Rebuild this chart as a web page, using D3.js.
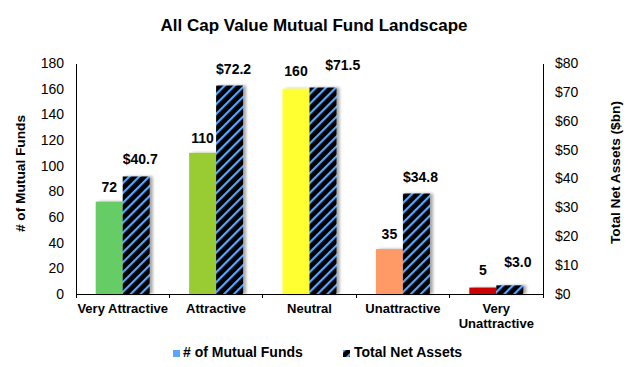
<html lang="en">
<head>
<meta charset="utf-8">
<title>All Cap Value Mutual Fund Landscape</title>
<script src="https://cdnjs.cloudflare.com/ajax/libs/d3/7.8.5/d3.min.js"></script>
<style>
	body { margin: 0; background: white; font-family: Arial, "Liberation Sans", sans-serif; }
	svg { display: block; }
	.axis path, .axis line { stroke: #000; fill: none; shape-rendering: crispEdges; }
	.axis text { font-size: 14px; fill: #000; font-family: Arial, "Liberation Sans", sans-serif; }
	.xaxis text { font-size: 13px; font-weight: bold; }
	.lbl { font-size: 14px; font-weight: bold; text-anchor: middle; }
	.title { font-size: 17px; font-weight: bold; text-anchor: middle; }
	.ytitle { font-size: 13.7px; font-weight: bold; text-anchor: middle; }
	.legend text { font-size: 14px; font-weight: bold; }
</style>
</head>
<body>
<script>
var categories = ["Very Attractive", "Attractive", "Neutral", "Unattractive", "Very Unattractive"];
var fundCounts = [72, 110, 160, 35, 5];
var netAssets = [40.7, 72.2, 71.5, 34.8, 3.0];
var barColors = ["#66cc66", "#99cc33", "#ffff33", "#ff9966", "#cc0000"];
var leftTicks = [0, 20, 40, 60, 80, 100, 120, 140, 160, 180];
var rightTicks = [0, 10, 20, 30, 40, 50, 60, 70, 80];

var fullwidth = 630, fullheight = 367;
var margin = { top: 63, right: 87, bottom: 73, left: 76 };
var width = fullwidth - margin.left - margin.right;
var height = fullheight - margin.top - margin.bottom;

var svg = d3.select("body").append("svg")
	.attr("width", fullwidth)
	.attr("height", fullheight);

var defs = svg.append("defs");
var pat = defs.append("pattern")
	.attr("id", "hatch")
	.attr("patternUnits", "userSpaceOnUse")
	.attr("width", 7).attr("height", 7)
	.attr("patternTransform", "rotate(45)");
pat.append("rect").attr("width", 7).attr("height", 7).attr("fill", "#000");
pat.append("rect").attr("x", 0).attr("width", 2.2).attr("height", 7).attr("fill", "#5aa5ff");

var shadow = defs.append("filter").attr("id", "shadow")
	.attr("x", "-20%").attr("y", "-20%").attr("width", "150%").attr("height", "150%");
shadow.append("feGaussianBlur").attr("in", "SourceAlpha").attr("stdDeviation", 1.5);
shadow.append("feOffset").attr("dx", 2.5).attr("dy", -0.5).attr("result", "blur");
shadow.append("feComponentTransfer").append("feFuncA").attr("type", "linear").attr("slope", 0.35);
var merge = shadow.append("feMerge");
merge.append("feMergeNode");
merge.append("feMergeNode").attr("in", "SourceGraphic");

var g = svg.append("g").attr("transform", "translate(" + margin.left + "," + margin.top + ")");

var x = d3.scaleBand().domain(categories).range([0, width]);
var yL = d3.scaleLinear().domain([0, 180]).range([height, 0]);
var yR = d3.scaleLinear().domain([0, 80]).range([height, 0]);
var barW = 27;

// x axis
var xAxis = g.append("g").attr("class", "axis xaxis")
	.attr("transform", "translate(0," + height + ")");
xAxis.append("line").attr("x1", 0).attr("x2", width);
xAxis.selectAll(".tk").data(d3.range(categories.length + 1)).enter().append("line")
	.attr("x1", function(i) { return i * x.bandwidth(); })
	.attr("x2", function(i) { return i * x.bandwidth(); })
	.attr("y1", 0).attr("y2", 4);
xAxis.selectAll(".cat").data(categories).enter().append("text")
	.attr("text-anchor", "middle")
	.attr("x", function(d) { return x(d) + x.bandwidth() / 2; })
	.attr("y", 19)
	.each(function(d) {
		var t = d3.select(this);
		if (d === "Very Unattractive") {
			t.append("tspan").attr("x", x(d) + x.bandwidth() / 2).text("Very");
			t.append("tspan").attr("x", x(d) + x.bandwidth() / 2).attr("dy", 15).text("Unattractive");
		} else {
			t.text(d);
		}
	});

// left axis
g.append("g").attr("class", "axis")
	.call(d3.axisLeft(yL).tickValues(leftTicks).tickSize(0).tickPadding(12));

// right axis
g.append("g").attr("class", "axis")
	.attr("transform", "translate(" + width + ",0)")
	.call(d3.axisRight(yR).tickValues(rightTicks).tickSize(0).tickPadding(12)
		.tickFormat(function(d) { return "$" + d; }));

// bars
var groups = g.selectAll(".grp").data(categories).enter().append("g")
	.attr("transform", function(d) { return "translate(" + (x(d) + x.bandwidth() / 2) + ",0)"; });

groups.append("rect")
	.attr("x", -barW)
	.attr("width", barW)
	.attr("y", function(d, i) { return yL(fundCounts[i]); })
	.attr("height", function(d, i) { return height - yL(fundCounts[i]); })
	.attr("fill", function(d, i) { return barColors[i]; })
	.attr("filter", "url(#shadow)");

groups.append("rect")
	.attr("x", 0)
	.attr("width", barW)
	.attr("y", function(d, i) { return yR(netAssets[i]); })
	.attr("height", function(d, i) { return height - yR(netAssets[i]); })
	.attr("fill", "url(#hatch)")
	.attr("filter", "url(#shadow)");

// labels: nudge apart when the two bars are about the same height
function crowded(i) { return Math.abs(yL(fundCounts[i]) - yR(netAssets[i])) < 14; }

var fundLbl = groups.append("text").attr("class", "lbl")
	.attr("x", -barW / 2)
	.attr("y", function(d, i) { return yL(fundCounts[i]) - (crowded(i) ? 12.5 : 10); })
	.text(function(d, i) { return fundCounts[i]; });

groups.append("text").attr("class", "lbl")
	.text(function(d, i) { return "$" + netAssets[i].toFixed(1); })
	.attr("y", function(d, i) { return yR(netAssets[i]) - (crowded(i) ? 18 : 12); })
	.attr("x", function(d, i) {
		if (!crowded(i)) return barW / 2 + 4;
		var fw = fundLbl.nodes()[i].getComputedTextLength();
		var aw = this.getComputedTextLength();
		return -barW / 2 + fw / 2 + 17.5 + aw / 2;
	});

// titles
svg.append("text").attr("class", "title")
	.attr("x", 314).attr("y", 31)
	.text("All Cap Value Mutual Fund Landscape");

svg.append("text").attr("class", "ytitle")
	.attr("transform", "translate(25," + 173.5 + ") rotate(-90)")
	.text("# of Mutual Funds");

svg.append("text").attr("class", "ytitle")
	.attr("transform", "translate(620," + 172.5 + ") rotate(-90)")
	.text("Total Net Assets ($bn)");

// legend
var legend = svg.append("g").attr("class", "legend");
legend.append("rect").attr("x", 173).attr("y", 350).attr("width", 7).attr("height", 7).attr("fill", "#5aa5ff");
legend.append("text").attr("x", 183).attr("y", 357).text("# of Mutual Funds");
legend.append("rect").attr("x", 343).attr("y", 350).attr("width", 7).attr("height", 7).attr("fill", "url(#hatch)");
legend.append("text").attr("x", 354).attr("y", 357).text("Total Net Assets");
</script>
</body>
</html>
